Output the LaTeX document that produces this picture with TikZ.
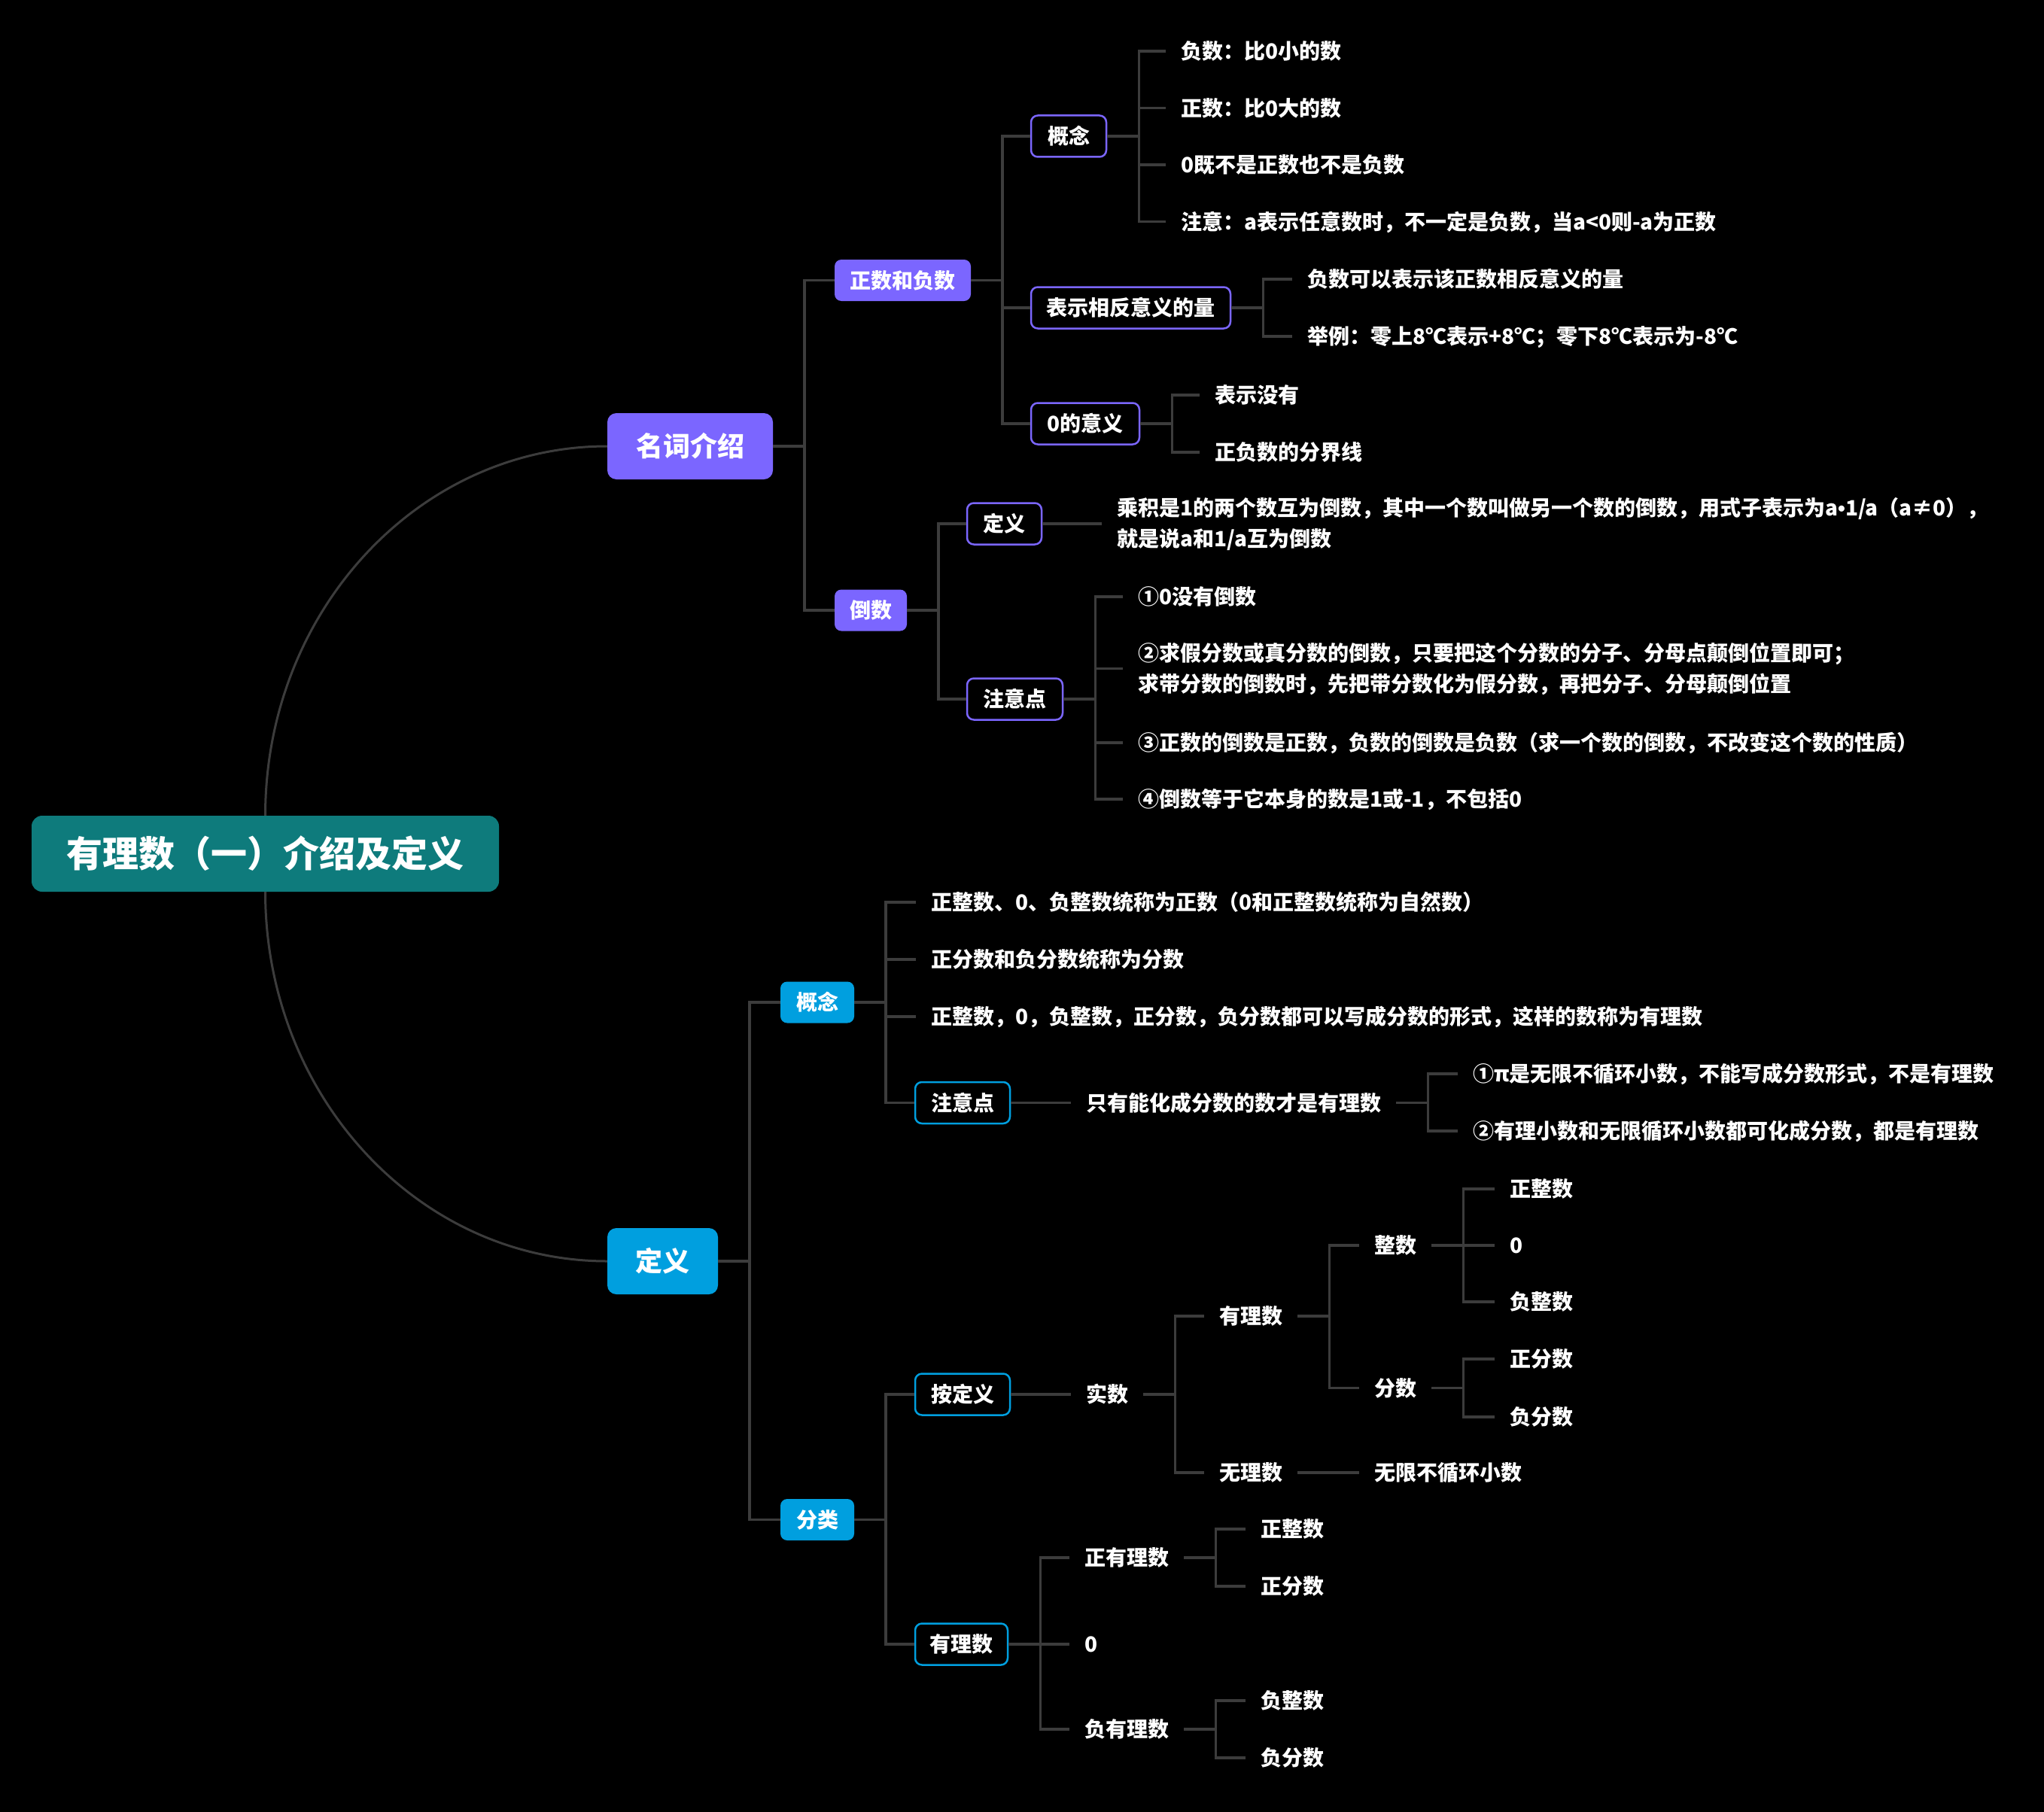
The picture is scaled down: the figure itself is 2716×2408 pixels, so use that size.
\documentclass[tikz,border=0pt]{standalone}
\usepackage{fontspec}
\setmainfont{Noto Sans CJK SC}
\newfontfamily\latinsans{Liberation Sans}
\definecolor{purp}{HTML}{7B66FF}
\definecolor{blu}{HTML}{009FDF}
\definecolor{teal0}{HTML}{0E7B7C}
\definecolor{linec}{HTML}{3C3C3C}
\tikzset{
  txt/.style={text=white, font=\bfseries\fontsize{28}{41}\selectfont},
  leaf/.style={txt, anchor=west, inner xsep=20, inner ysep=2, text height=24.6pt, text depth=3.4pt},
  leafml/.style={txt, anchor=west, inner xsep=20, inner ysep=2, align=left},
  boxbase/.style={txt, rounded corners=9, inner xsep=0, inner ysep=0, minimum height=55, text height=24.6pt, text depth=3.4pt},
  pfill/.style={boxbase, fill=purp},
  pline/.style={boxbase, draw=purp, line width=2.5, fill=black},
  bfill/.style={boxbase, fill=blu},
  bline/.style={boxbase, draw=blu, line width=2.5, fill=black},
  lonebox/.style={text=white, font=\bfseries\fontsize{36}{44}\selectfont, rounded corners=12, inner sep=0, minimum height=88, text height=31.7pt, text depth=4.3pt},
  rootbox/.style={text=white, fill=teal0, font=\bfseries\fontsize{48}{58}\selectfont, rounded corners=14, inner sep=0, minimum width=621, minimum height=101, text height=42.2pt, text depth=5.8pt},
  conn/.style={draw=linec, line width=3.5},
  curv/.style={draw=linec, line width=3},
}
\newcommand\mmbranch[2]{%
  \draw[conn] (#1.east) -- ++(42,0) coordinate (#1-b);
  \foreach \c in {#2} {\draw[conn] (#1-b) |- (\c.west);}
}
\begin{document}
\begin{tikzpicture}[x=1pt,y=-1pt]
\fill[black] (0,0) rectangle (2716,2408);
\useasboundingbox (0,0) rectangle (2716,2408);

% root and level 1
\node[rootbox] (r) at (352.5,1134.5) {有理数（一）介绍及定义};
\node[lonebox, fill=purp, minimum width=220] (n1) at (917,593) {名词介绍};
\node[lonebox, fill=blu, minimum width=147] (n2) at (880.5,1676) {定义};
\draw[curv] (r.north) .. controls +(0,-271) and +(-251,0) .. (n1.west);
\draw[curv] (r.south) .. controls +(0,271) and +(-251,0) .. (n2.west);

% 名词介绍 branch
\node[pfill, minimum width=181] (a1) at (1199.5,372.5) {正数和负数};
\node[pfill, minimum width=96] (a2) at (1157,811) {倒数};

\node[pline, minimum width=100] (b1) at (1420,181) {概念};
\node[pline, minimum width=265] (b2) at (1502.5,409) {表示相反意义的量};
\node[pline, minimum width=144] (b3) at (1442,563) {0的意义};

\node[leaf] (b1a) at (1549,68) {负数：比0小的数};
\node[leaf] (b1b) at (1549,143.5) {正数：比0大的数};
\node[leaf] (b1c) at (1549,219) {0既不是正数也不是负数};
\node[leaf] (b1d) at (1549,294.5) {注意：a表示任意数时，不一定是负数，当a<0则-a为正数};

\node[leaf] (b2a) at (1717,371) {负数可以表示该正数相反意义的量};
\node[leaf] (b2b) at (1717,447) {举例：零上8℃表示+8℃；零下8℃表示为-8℃};

\node[leaf] (b3a) at (1594,525) {表示没有};
\node[leaf] (b3b) at (1594,601) {正负数的分界线};

\node[pline, minimum width=99] (c1) at (1334.5,696) {定义};
\node[pline, minimum width=127] (c2) at (1348.5,929) {注意点};

\node[leafml] (c1a) at (1464,696) {乘积是1的两个数互为倒数，其中一个数叫做另一个数的倒数，用式子表示为a{\latinsans•}1/a（a≠0），\\就是说a和1/a互为倒数};

\node[leaf] (c2a) at (1492,793) {①0没有倒数};
\node[leafml] (c2b) at (1492,888.5) {②求假分数或真分数的倒数，只要把这个分数的分子、分母点颠倒位置即可；\\求带分数的倒数时，先把带分数化为假分数，再把分子、分母颠倒位置};
\node[leaf] (c2c) at (1492,987) {③正数的倒数是正数，负数的倒数是负数（求一个数的倒数，不改变这个数的性质）};
\node[leaf] (c2d) at (1492,1062) {④倒数等于它本身的数是1或-1，不包括0};

% 定义 branch
\node[bfill, minimum width=98] (d1) at (1086,1332) {概念};
\node[bfill, minimum width=98] (d2) at (1086,2019.5) {分类};

\node[leaf] (d1a) at (1217,1199) {正整数、0、负整数统称为正数（0和正整数统称为自然数）};
\node[leaf] (d1b) at (1217,1275) {正分数和负分数统称为分数};
\node[leaf] (d1c) at (1217,1351) {正整数，0，负整数，正分数，负分数都可以写成分数的形式，这样的数称为有理数};
\node[bline, minimum width=126] (e1) at (1279,1465.5) {注意点};
\node[leaf] (f1) at (1423,1465.5) {只有能化成分数的数才是有理数};
\node[leaf] (f1a) at (1937,1427) {①π是无限不循环小数，不能写成分数形式，不是有理数};
\node[leaf] (f1b) at (1937,1503) {②有理小数和无限循环小数都可化成分数，都是有理数};

\node[bline, minimum width=126] (g1) at (1279,1853) {按定义};
\node[leaf] (h1) at (1423,1853) {实数};
\node[leaf] (i1) at (1600,1749) {有理数};
\node[leaf] (i2) at (1600,1957) {无理数};
\node[leaf] (j1) at (1806,1655) {整数};
\node[leaf] (j2) at (1806,1844.5) {分数};
\node[leaf] (j1a) at (1986,1580) {正整数};
\node[leaf] (j1b) at (1986,1655) {0};
\node[leaf] (j1c) at (1986,1730) {负整数};
\node[leaf] (j2a) at (1986,1806) {正分数};
\node[leaf] (j2b) at (1986,1883) {负分数};
\node[leaf] (k1) at (1806,1957) {无限不循环小数};

\node[bline, minimum width=123] (g2) at (1277.5,2185) {有理数};
\node[leaf] (l1) at (1421,2070) {正有理数};
\node[leaf] (l2) at (1421,2185) {0};
\node[leaf] (l3) at (1421,2298) {负有理数};
\node[leaf] (l1a) at (1655,2032) {正整数};
\node[leaf] (l1b) at (1655,2108) {正分数};
\node[leaf] (l3a) at (1655,2260) {负整数};
\node[leaf] (l3b) at (1655,2336) {负分数};

% connectors
\mmbranch{n1}{a1,a2}
\mmbranch{a1}{b1,b2,b3}
\mmbranch{b1}{b1a,b1b,b1c,b1d}
\mmbranch{b2}{b2a,b2b}
\mmbranch{b3}{b3a,b3b}
\mmbranch{a2}{c1,c2}
\draw[conn] (c1.east) -- (c1a.west);
\mmbranch{c2}{c2a,c2b,c2c,c2d}
\mmbranch{n2}{d1,d2}
\mmbranch{d1}{d1a,d1b,d1c,e1}
\draw[conn] (e1.east) -- (f1.west);
\mmbranch{f1}{f1a,f1b}
\mmbranch{d2}{g1,g2}
\draw[conn] (g1.east) -- (h1.west);
\mmbranch{h1}{i1,i2}
\mmbranch{i1}{j1,j2}
\mmbranch{j1}{j1a,j1b,j1c}
\mmbranch{j2}{j2a,j2b}
\draw[conn] (i2.east) -- (k1.west);
\mmbranch{g2}{l1,l2,l3}
\mmbranch{l1}{l1a,l1b}
\mmbranch{l3}{l3a,l3b}
\end{tikzpicture}
\end{document}
